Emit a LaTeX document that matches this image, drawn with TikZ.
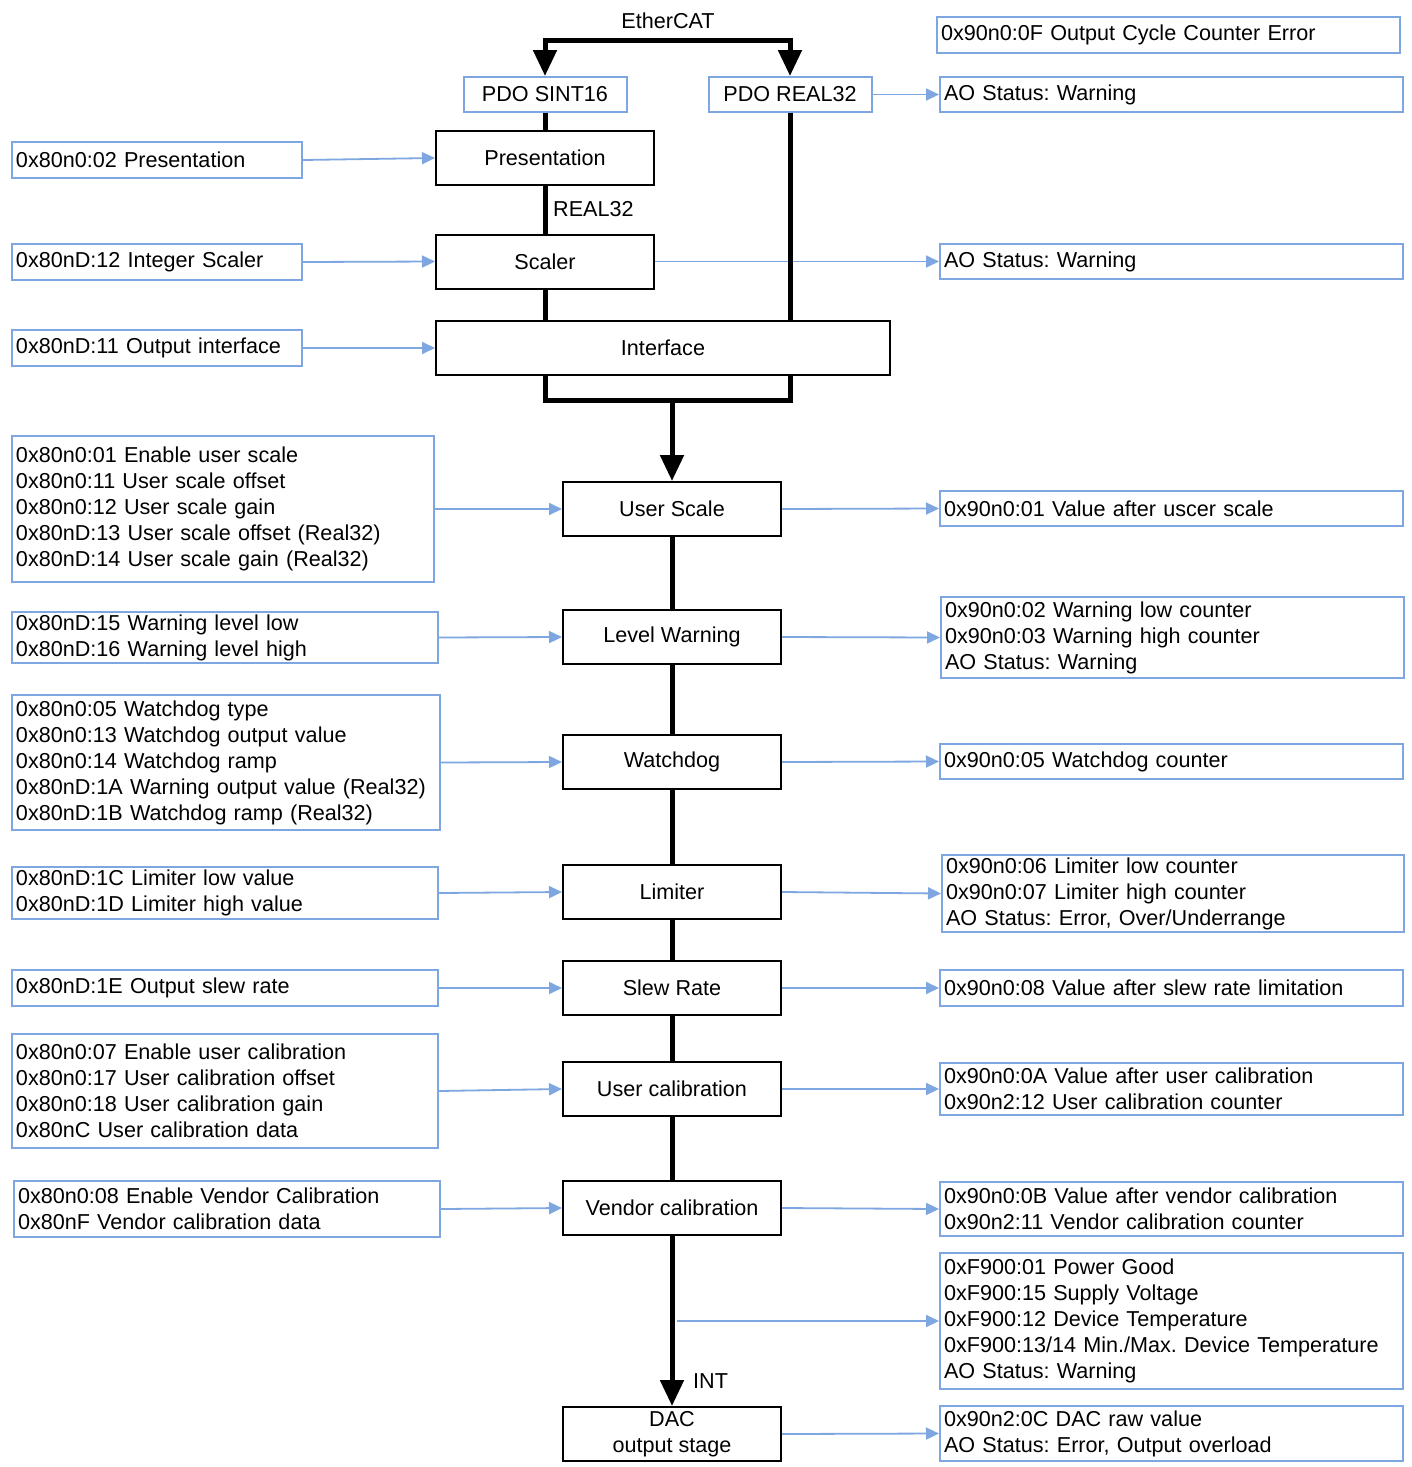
\documentclass[tikz,border=0pt]{standalone}
\usepackage{fontspec}
\setmainfont{Liberation Sans}
\usetikzlibrary{arrows.meta}
\definecolor{bl}{HTML}{7EA6E0}
\frenchspacing
\begin{document}
\begin{tikzpicture}[x=1pt,y=-1pt,
  every node/.style={font=\fontsize{21.6}{26}\selectfont\frenchspacing, inner sep=0pt},
  blk/.style={draw=black, line width=2pt, minimum width=218pt, minimum height=54pt, align=center, fill=white},
  pdo/.style={draw=bl, line width=2pt, minimum width=163pt, minimum height=35pt, fill=white},
  pbox/.style={draw=bl, line width=2pt, inner xsep=4pt, align=left},
  barrow/.style={draw=bl, line width=1.8pt, -{Triangle[length=13pt,width=12pt]}},
  thk/.style={line width=5pt, line join=miter},
  tarrow/.style={line width=5pt, -{Triangle[length=26pt,width=23pt]}},
  lbl/.style={font=\fontsize{21.6}{26}\selectfont}
]
\useasboundingbox (0,0) rectangle (1411,1467);

% central column
\node[lbl] (eth) at (668,21) {EtherCAT};
\coordinate (top) at (668,40);
\node[pdo] (pdoS) at (545,94.5) {PDO SINT16};
\node[pdo] (pdoR) at (790,94.5) {PDO REAL32};
\node[blk] (pres) at (545,158) {Presentation};
\node[blk] (scal) at (545,261.5) {Scaler};
\node[blk, minimum width=454pt] (intf) at (663,348) {Interface};
\node[blk] (us) at (672,509) {User Scale};
\node[blk] (lw) at (672,637) {Level Warning};
\node[blk] (wd) at (672,762) {Watchdog};
\node[blk] (lim) at (672,892) {Limiter};
\node[blk] (sr) at (672,988) {Slew Rate};
\node[blk] (uc) at (672,1089) {User calibration};
\node[blk] (vc) at (672,1208) {Vendor calibration};
\node[blk] (dac) at (672,1434) {DAC\\output stage};
\node[lbl, anchor=west] (real) at (553,209) {REAL32};
\node[lbl, anchor=west] (int) at (693,1381) {INT};

% left boxes
\node[pbox, minimum width=290pt, minimum height=36pt, text width=282pt] (L1) at (157,160) {0x80n0:02 Presentation};
\node[pbox, minimum width=290pt, minimum height=36pt, text width=282pt] (L2) at (157,262) {0x80nD:12 Integer Scaler};
\node[pbox, minimum width=290pt, minimum height=36pt, text width=282pt] (L3) at (157,348) {0x80nD:11 Output interface};
\node[pbox, minimum width=422pt, minimum height=146pt, text width=414pt] (L4) at (223,509) {0x80n0:01 Enable user scale\\0x80n0:11 User scale offset\\0x80n0:12 User scale gain\\0x80nD:13 User scale offset (Real32)\\0x80nD:14 User scale gain (Real32)};
\node[pbox, minimum width=426pt, minimum height=51pt, text width=418pt] (L5) at (225,637.5) {0x80nD:15 Warning level low\\0x80nD:16 Warning level high};
\node[pbox, minimum width=428pt, minimum height=135pt, text width=420pt] (L6) at (226,762.5) {0x80n0:05 Watchdog type\\0x80n0:13 Watchdog output value\\0x80n0:14 Watchdog ramp\\0x80nD:1A Warning output value (Real32)\\0x80nD:1B Watchdog ramp (Real32)};
\node[pbox, minimum width=426pt, minimum height=52pt, text width=418pt] (L7) at (225,893) {0x80nD:1C Limiter low value\\0x80nD:1D Limiter high value};
\node[pbox, minimum width=426pt, minimum height=36pt, text width=418pt] (L8) at (225,988) {0x80nD:1E Output slew rate};
\node[pbox, minimum width=426pt, minimum height=114pt, text width=418pt] (L9) at (225,1091) {0x80n0:07 Enable user calibration\\0x80n0:17 User calibration offset\\0x80n0:18 User calibration gain\\0x80nC User calibration data};
\node[pbox, minimum width=426pt, minimum height=56pt, text width=418pt] (L10) at (227,1209) {0x80n0:08 Enable Vendor Calibration\\0x80nF Vendor calibration data};

% right boxes
\node[pbox, minimum width=463pt, minimum height=36pt, text width=455pt] (R0) at (1168.5,35) {0x90n0:0F Output Cycle Counter Error};
\node[pbox, minimum width=463pt, minimum height=35pt, text width=455pt] (R1) at (1171.5,94.5) {AO Status: Warning};
\node[pbox, minimum width=463pt, minimum height=35pt, text width=455pt] (R2) at (1171.5,261.5) {AO Status: Warning};
\node[pbox, minimum width=463pt, minimum height=35pt, text width=455pt] (R3) at (1171.5,508.5) {0x90n0:01 Value after uscer scale};
\node[pbox, minimum width=463pt, minimum height=81pt, text width=455pt] (R4) at (1172.5,637.5) {0x90n0:02 Warning low counter\\0x90n0:03 Warning high counter\\AO Status: Warning};
\node[pbox, minimum width=463pt, minimum height=35pt, text width=455pt] (R5) at (1171.5,761.5) {0x90n0:05 Watchdog counter};
\node[pbox, minimum width=462pt, minimum height=77pt, text width=454pt] (R6) at (1173,893.5) {0x90n0:06 Limiter low counter\\0x90n0:07 Limiter high counter\\AO Status: Error, Over/Underrange};
\node[pbox, minimum width=463pt, minimum height=36pt, text width=455pt] (R7) at (1171.5,988) {0x90n0:08 Value after slew rate limitation};
\node[pbox, minimum width=463pt, minimum height=52pt, text width=455pt] (R8) at (1171.5,1089) {0x90n0:0A Value after user calibration\\0x90n2:12 User calibration counter};
\node[pbox, minimum width=463pt, minimum height=54pt, text width=455pt] (R9) at (1171.5,1209) {0x90n0:0B Value after vendor calibration\\0x90n2:11 Vendor calibration counter};
\node[pbox, minimum width=463pt, minimum height=136pt, text width=455pt] (R10) at (1171.5,1321) {0xF900:01 Power Good\\0xF900:15 Supply Voltage\\0xF900:12 Device Temperature\\0xF900:13/14 Min./Max. Device Temperature\\AO Status: Warning};
\node[pbox, minimum width=463pt, minimum height=55pt, text width=455pt] (R11) at (1171.5,1433.5) {0x90n2:0C DAC raw value\\AO Status: Error, Output overload};

% blue connectors
\draw[barrow] (L1.east) -- (pres.west);
\draw[barrow] (L2.east) -- (scal.west);
\draw[barrow] (L3.east) -- (intf.west);
\draw[barrow] (L4.east) -- (us.west);
\draw[barrow] (L5.east) -- (lw.west);
\draw[barrow] (L6.east) -- (wd.west);
\draw[barrow] (L7.east) -- (lim.west);
\draw[barrow] (L8.east) -- (sr.west);
\draw[barrow] (L9.east) -- (uc.west);
\draw[barrow] (L10.east) -- (vc.west);
\draw[barrow] (pdoR.east) -- (R1.west);
\draw[barrow] (scal.east) -- (R2.west);
\draw[barrow] (us.east) -- (R3.west);
\draw[barrow] (lw.east) -- (R4.west);
\draw[barrow] (wd.east) -- (R5.west);
\draw[barrow] (lim.east) -- (R6.west);
\draw[barrow] (sr.east) -- (R7.west);
\draw[barrow] (uc.east) -- (R8.west);
\draw[barrow] (vc.east) -- (R9.west);
\coordinate (fs) at (677,1321);
\draw[barrow] (fs) -- (R10.west);
\draw[barrow] (dac.east) -- (R11.west);

% thick black connectors
\draw[tarrow] (top) -| (pdoS.north);
\draw[tarrow] (top) -| (pdoR.north);
\draw[thk] (pdoS.south) -- (pres.north);
\draw[thk] (pres.south) -- (scal.north);
\draw[thk] (scal.south) -- (intf.north -| scal.south);
\draw[thk] (pdoR.south) -- (intf.north -| pdoR.south);
\coordinate (jl) at (545,400);
\coordinate (jr) at (790,400);
\coordinate (jm) at (672,400);
\draw[thk] (intf.south -| pdoS.south) -- (jl) -- (jr) -- (intf.south -| pdoR.south);
\draw[tarrow] (jm) -- (us.north);
\draw[thk] (us.south) -- (lw.north);
\draw[thk] (lw.south) -- (wd.north);
\draw[thk] (wd.south) -- (lim.north);
\draw[thk] (lim.south) -- (sr.north);
\draw[thk] (sr.south) -- (uc.north);
\draw[thk] (uc.south) -- (vc.north);
\draw[tarrow] (vc.south) -- (dac.north);
\end{tikzpicture}
\end{document}
